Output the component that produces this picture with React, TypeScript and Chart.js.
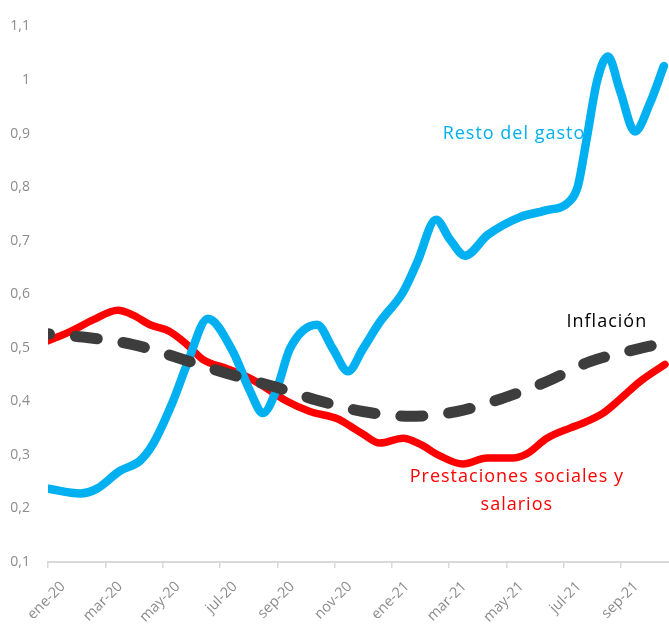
import React, { useEffect, useRef } from "react";
import { Chart, registerables } from "chart.js";

Chart.register(...registerables);

// x positions are months since ene-20 (0 = ene-20)
const monthLabels = ["ene-20", "feb-20", "mar-20", "abr-20", "may-20", "jun-20", "jul-20", "ago-20", "sep-20", "oct-20", "nov-20", "dic-20", "ene-21", "feb-21", "mar-21", "abr-21", "may-21", "jun-21", "jul-21", "ago-21", "sep-21", "oct-21"];

const restoX = [0, 1.12, 1.71, 2.51, 3.21, 3.66, 4.36, 4.85, 5.58, 6.45, 7.05, 7.5, 7.99, 8.44, 9.39, 9.94, 10.47, 10.99, 11.58, 12.39, 12.88, 13.54, 14.03, 14.55, 15.35, 16.47, 17.34, 18.21, 18.49, 18.81, 19.16, 19.54, 19.96, 20.48, 21.0, 21.49];
const restoY = [0.237, 0.228, 0.237, 0.27, 0.289, 0.32, 0.4, 0.469, 0.554, 0.493, 0.419, 0.378, 0.424, 0.498, 0.543, 0.498, 0.456, 0.498, 0.548, 0.604, 0.659, 0.739, 0.702, 0.672, 0.711, 0.744, 0.756, 0.774, 0.802, 0.894, 0.998, 1.044, 0.98, 0.904, 0.956, 1.026];

const prestX = [0, 0.77, 1.57, 2.44, 2.97, 3.56, 4.26, 4.85, 5.41, 6.25, 7.05, 7.64, 8.34, 9.14, 10.12, 10.54, 10.99, 11.58, 12.39, 12.98, 13.68, 14.48, 15.32, 16.22, 16.71, 17.41, 18.21, 18.56, 19.37, 19.96, 20.66, 21.53];
const prestY = [0.513, 0.53, 0.552, 0.57, 0.561, 0.543, 0.53, 0.506, 0.478, 0.461, 0.443, 0.424, 0.4, 0.381, 0.367, 0.354, 0.339, 0.322, 0.331, 0.32, 0.298, 0.283, 0.294, 0.294, 0.302, 0.331, 0.35, 0.357, 0.378, 0.404, 0.437, 0.469];

const inflX = [0, 1.22, 2.97, 4.61, 6.25, 7.85, 9.39, 10.99, 12.63, 14.27, 15.88, 17.41, 18.91, 20.59, 21.53];
const inflY = [0.526, 0.52, 0.506, 0.48, 0.452, 0.428, 0.402, 0.381, 0.372, 0.381, 0.406, 0.437, 0.474, 0.498, 0.509];

const seriesNames = ["Inflación", "Resto del gasto", "Prestaciones sociales y salarios"];

const yMin = 0.1;
const yMax = 1.1;
const xMax = 21.67;

const pts = (xs: number[], ys: number[]) => xs.map((x, i) => ({ x, y: ys[i] }));

const labelsPlugin = {
  id: "seriesLabels",
  afterDatasetsDraw(chart: any) {
    const { ctx, scales } = chart;
    const xs = scales.x;
    const ys = scales.y;
    const items = [
      { text: "Resto del gasto", m: 16.26, v: 0.9, color: "#00B0F0" },
      { text: "Inflación", m: 19.5, v: 0.548, color: "#000000" },
      { text: "Prestaciones sociales y", m: 16.36, v: 0.259, color: "#FF0000" },
      { text: "salarios", m: 16.36, v: 0.207, color: "#FF0000" },
    ];
    ctx.save();
    ctx.font = "18px 'Open Sans', sans-serif";
    try {
      (ctx as any).letterSpacing = "1px";
    } catch (e) {}
    ctx.textAlign = "center";
    ctx.textBaseline = "middle";
    for (const it of items) {
      ctx.fillStyle = it.color;
      ctx.fillText(it.text, xs.getPixelForValue(it.m), ys.getPixelForValue(it.v));
    }
    ctx.restore();
  },
};

export default function App() {
  const ref = useRef<HTMLCanvasElement | null>(null);
  useEffect(() => {
    if (!ref.current) return;
    const chart = new Chart(ref.current, {
      type: "line",
      data: {
        datasets: [
          {
            label: seriesNames[0],
            data: pts(inflX, inflY),
            borderColor: "#3d3d3d",
            borderWidth: 11,
            borderDash: [22, 26],
            borderDashOffset: 20.5,
            borderCapStyle: "round",
            pointRadius: 0,
            cubicInterpolationMode: "monotone",
            order: 0,
          },
          {
            label: seriesNames[1],
            data: pts(restoX, restoY),
            borderColor: "#00B0F0",
            borderWidth: 8.5,
            borderCapStyle: "round",
            borderJoinStyle: "round",
            pointRadius: 0,
            cubicInterpolationMode: "monotone",
            order: 1,
          },
          {
            label: seriesNames[2],
            data: pts(prestX, prestY),
            borderColor: "#FF0000",
            borderWidth: 7.5,
            borderCapStyle: "round",
            borderJoinStyle: "round",
            pointRadius: 0,
            cubicInterpolationMode: "monotone",
            order: 2,
          },
        ],
      },
      options: {
        animation: false,
        responsive: false,
        maintainAspectRatio: false,
        layout: { padding: { top: 22, right: 0, left: 0, bottom: 0 } },
        plugins: { legend: { display: false }, tooltip: { enabled: false } },
        scales: {
          x: {
            type: "linear",
            min: 0,
            max: xMax,
            afterBuildTicks: (scale: any) => {
              const t = [];
              for (let i = 0; i < monthLabels.length - 1; i += 2) t.push({ value: i });
              scale.ticks = t;
            },
            afterFit: (scale: any) => {
              scale.height = 69;
            },
            grid: {
              drawOnChartArea: false,
              drawTicks: true,
              tickLength: 6,
              color: "#d9d9d9",
              lineWidth: 1.5,
            },
            border: { color: "#d9d9d9", width: 2 },
            ticks: {
              minRotation: 45,
              maxRotation: 45,
              autoSkip: false,
              padding: 10,
              labelOffset: 15,
              color: "#8c8c8c",
              font: { family: "'Open Sans', sans-serif", size: 14.5 },
              callback: (v: any) => monthLabels[Math.round(Number(v))] ?? "",
            },
          },
          y: {
            min: yMin,
            max: yMax,
            afterFit: (scale: any) => {
              scale.width = 48;
            },
            grid: { display: false, drawTicks: false },
            border: { display: false },
            ticks: {
              stepSize: 0.1,
              padding: 18,
              color: "#8c8c8c",
              font: { family: "'Open Sans', sans-serif", size: 14 },
              callback: (v: any) => Number(Number(v).toFixed(1)).toString().replace(".", ","),
            },
          },
        },
      },
      plugins: [labelsPlugin],
    } as any);
    return () => chart.destroy();
  }, []);
  return (
    <div style={{ position: "fixed", left: 0, top: 0, width: 669, height: 631, background: "#fff" }}>
      <canvas ref={ref} width={669} height={631} style={{ width: 669, height: 631 }} />
    </div>
  );
}
